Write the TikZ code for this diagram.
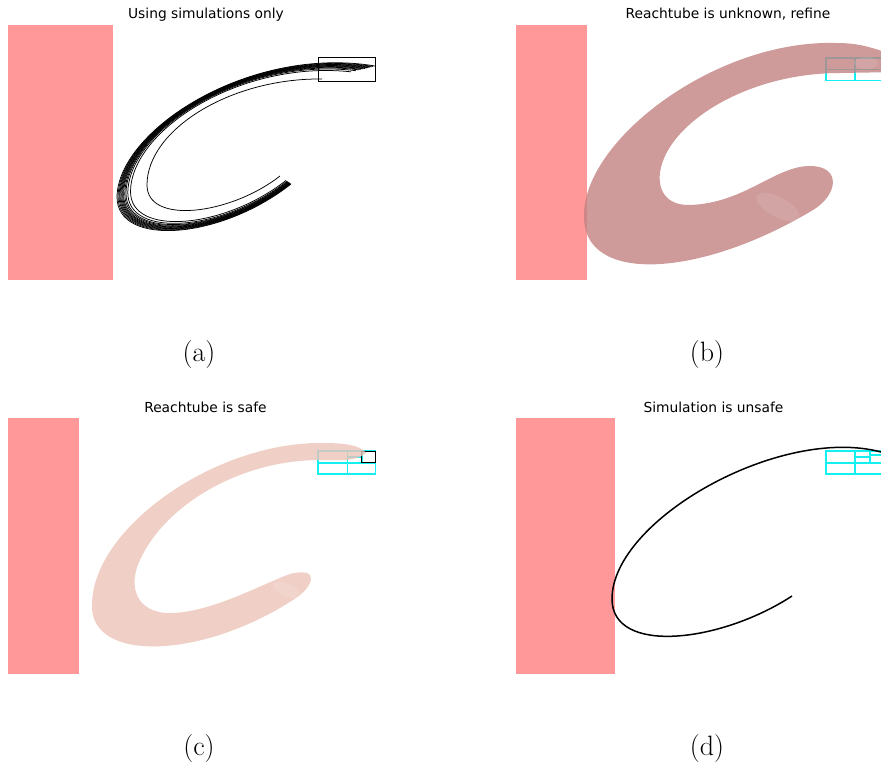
\documentclass[tikz,border=0pt]{standalone}
\usepackage{fontspec}
\newfontfamily\titlefont{DejaVu Sans}
\usetikzlibrary{calc}
\definecolor{unsafered}{RGB}{255,153,153}
\definecolor{tubeb}{RGB}{194,129,129}
\definecolor{tubec}{RGB}{236,196,184}
\definecolor{boxcyan}{RGB}{20,240,240}
\tikzset{
  titletext/.style={font=\titlefont\fontsize{13.8}{16}\selectfont, anchor=base, inner sep=0pt},
  subcap/.style={font=\fontsize{28}{30}\selectfont, anchor=base, inner sep=0pt},
  unsafe/.style={fill=unsafered, draw=none},
  simline/.style={draw=black, line width=0.75pt},
  cyanbox/.style={draw=boxcyan, line width=1.8pt},
  blackbox/.style={draw=black, line width=0.9pt},
  tubeB/.style={fill=tubeb, fill opacity=0.8, draw=none},
  tubeC/.style={fill=tubec, fill opacity=0.8, draw=none},
}
\begin{document}
\begin{tikzpicture}[x=1pt,y=-1pt]
\useasboundingbox (0,0) rectangle (881,767);
\clip (0,0) rectangle (881,767);

% ---------- titles ----------
\node[titletext] (ta) at (206,19) {Using simulations only};
\node[titletext] (tb) at (728,19) {Reachtube is unknown, refine};
\node[titletext] (tc) at (205.5,412) {Reachtube is safe};
\node[titletext] (td) at (713.5,412) {Simulation is unsafe};

% ---------- subcaptions ----------
\node[subcap] (la) at (199,362) {(a)};
\node[subcap] (lb) at (707,362) {(b)};
\node[subcap] (lc) at (199,755) {(c)};
\node[subcap] (ld) at (707,755) {(d)};

% ---------- unsafe regions ----------
\fill[unsafe] (8,25) rectangle (113,280);
\fill[unsafe] (516,25) rectangle (587,280);
\fill[unsafe] (8,418) rectangle (79,674);
\fill[unsafe] (516,418) rectangle (615,674);

% ---------- (a) simulations ----------
% outer trajectory
\coordinate (Oa) at (375,66);  \coordinate (Ob) at (250,45);  \coordinate (Oc) at (118,130);
\coordinate (Od) at (117,197); \coordinate (Oe) at (117,247); \coordinate (Of) at (220,240);
\coordinate (Og) at (291,184);
% inner trajectory
\coordinate (Ia) at (322,79);  \coordinate (Ib) at (230,78);  \coordinate (Ic) at (147,130);
\coordinate (Id) at (147,185); \coordinate (Ie) at (147,225); \coordinate (If) at (230,215);
\coordinate (Ig) at (280,176);
\foreach \t in {0,0.035,0.07,0.1,0.13,0.16,0.19,0.22,0.26,0.3,0.36,0.45,1}{
  \draw[simline] ($(Oa)!\t!(Ia)$) .. controls ($(Ob)!\t!(Ib)$) and ($(Oc)!\t!(Ic)$) ..
    ($(Od)!\t!(Id)$) .. controls ($(Oe)!\t!(Ie)$) and ($(Of)!\t!(If)$) .. ($(Og)!\t!(Ig)$);
}
\draw[blackbox] (318.3,57.3) rectangle (375.3,81);

% ---------- (b) reachtube unknown ----------
\draw[cyanbox] (826,58) rectangle (900,80.5);
\draw[cyanbox] (855,58) -- (855,80.5);
\draw[cyanbox] (826,69.5) -- (900,69.5);
\fill[tubeB] (900,57) .. controls (870,47) and (860,43) .. (835,43)
  .. controls (715,40) and (584,140) .. (584,215)
  .. controls (582,285) and (700,278) .. (813,210)
  .. controls (838,195) and (842,166) .. (810,166)
  .. controls (775,166) and (745,203) .. (690,205)
  .. controls (660,206) and (652,180) .. (667,152)
  .. controls (690,110) and (760,73) .. (840,73)
  -- (900,72) -- cycle;
\fill[white, opacity=0.1, rotate around={-28:(778,207)}] (778,207) ellipse (24 and 10);
\fill[white, opacity=0.1] (866,63) ellipse (12 and 6);

% ---------- (c) reachtube safe ----------
\draw[cyanbox] (318.3,451) rectangle (375.5,474);
\draw[cyanbox] (318.3,462.7) -- (375.5,462.7);
\draw[cyanbox] (347.5,451) -- (347.5,474);
\draw[cyanbox] (361.7,451) -- (361.7,462.7);
\draw[cyanbox] (347.5,456.7) -- (361.7,456.7);
\draw[blackbox] (361.7,451) rectangle (375.5,462.7);
\fill[tubeC] (366,453) .. controls (360,444) and (340,443) .. (320,443)
  .. controls (213,443) and (92,529) .. (92,605)
  .. controls (90,662) and (200,660) .. (293,600)
  .. controls (313,588) and (322,566) .. (290,574)
  .. controls (260,585) and (210,613) .. (170,613)
  .. controls (135,613) and (128,585) .. (140,560)
  .. controls (165,505) and (240,460) .. (320,460)
  -- (347,460) .. controls (355,459) and (362,457) .. (366,453) -- cycle;
\fill[white, opacity=0.1, rotate around={-25:(287,590)}] (287,590) ellipse (15 and 6);

% ---------- (d) simulation unsafe ----------
\draw[cyanbox] (826,451) rectangle (900,474.3);
\draw[cyanbox] (826,462.7) -- (900,462.7);
\draw[cyanbox] (855,451) -- (855,474.3);
\draw[cyanbox] (870,451) -- (870,462.7);
\draw[cyanbox] (855,456.7) -- (870,456.7);
\draw[cyanbox] (870,455) -- (900,455);
\draw[draw=black, line width=1.5pt] (900,457) -- (881,452)
  .. controls (780,425) and (612,520) .. (612,599)
  .. controls (612,655) and (720,643) .. (792,596);
\end{tikzpicture}
\end{document}
